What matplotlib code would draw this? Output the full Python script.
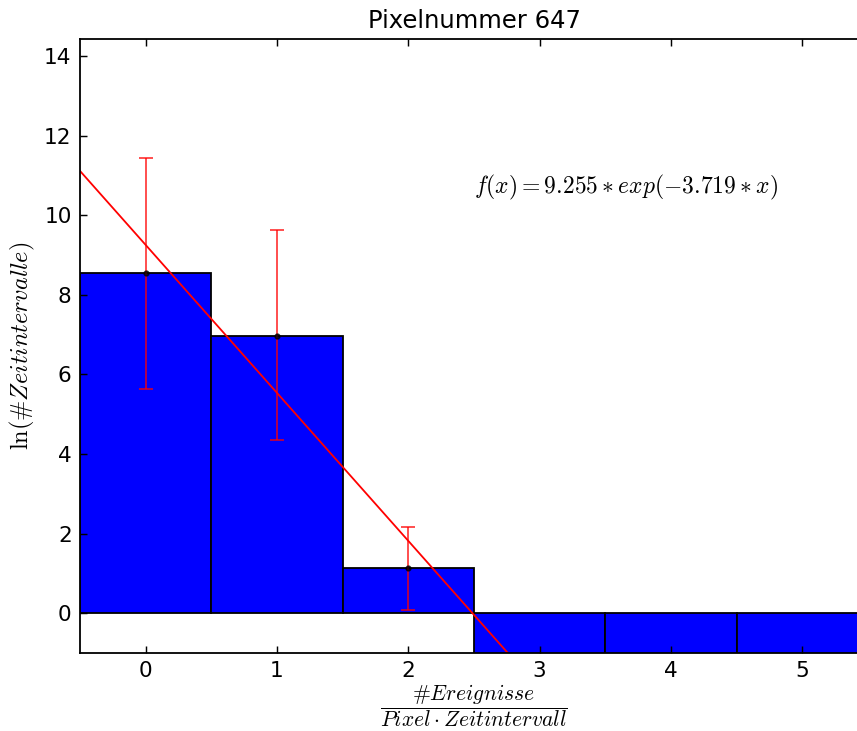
import numpy as np
import matplotlib
matplotlib.use("Agg")
import matplotlib.pyplot as plt
from matplotlib.mathtext import MathTextParser

plt.rcParams['mathtext.fontset'] = 'cm'
plt.rcParams['font.family'] = 'DejaVu Sans'

# data
events = [0, 1, 2, 3, 4, 5]
ln_counts = [8.56, 6.97, 1.13, -10.0, -10.0, -10.0]  # ln(0) -> clipped below axis
err_x = [0, 1, 2]
err_y = [8.56, 6.97, 1.13]
err_lo = [2.92, 2.61, 1.04]
err_hi = [2.89, 2.65, 1.03]
fit_a = 9.255
fit_b = 3.719

_parser = MathTextParser('agg')


def ok(s):
    try:
        _parser.parse(s, 100)
        return True
    except Exception:
        return False


HASHES = [r'\#', r'\mathrm{\#}', r'\text{\#}', r'\text{#}', '\uff03', r'\sharp ']
hs = '#'
for h in HASHES:
    if ok('$' + h + 'E$'):
        hs = h
        break

frac = r'\dfrac' if ok(r'$\dfrac{a}{b}$') else r'\frac'

xlabel = '$' + frac + '{' + hs + 'Ereignisse}{Pixel \\cdot Zeitintervall}$'
ylabel = '$\\ln(' + hs + 'Zeitintervalle)$'
fitlabel = r'$f(x)=9.255*exp(-3.719*x)$'
if not ok(xlabel):
    xlabel = '#Ereignisse / (Pixel·Zeitintervall)'
if not ok(ylabel):
    ylabel = 'ln(#Zeitintervalle)'

S = 1.3
fig = plt.figure(figsize=(8.57, 7.31), dpi=100)
W, H = 857, 731
ax = fig.add_axes([80 / W, (H - 653) / H, 788 / W, (653 - 39) / H])

ax.bar(events, ln_counts, width=1.0, align='center', color='#0000ff',
       edgecolor='black', linewidth=1.0 * S)
ax.errorbar(err_x, err_y, yerr=[err_lo, err_hi], fmt='k.', markersize=7,
            ecolor='red', elinewidth=1.0 * S, capsize=4 * S, capthick=1.0 * S,
            alpha=0.75)
xs = np.linspace(-0.5, 5.5, 200)
ax.plot(xs, fit_a - fit_b * xs, color='red', linewidth=1.0 * S)

ax.set_xlim(-0.5, 5.5)
ax.set_ylim(-1, 14.43)
ax.set_xticks([0, 1, 2, 3, 4, 5])
ax.set_yticks([0, 2, 4, 6, 8, 10, 12, 14])
ax.tick_params(direction='in', top=True, right=True, length=4 * S, width=0.8 * S,
               labelsize=12 * S, pad=6)
for sp in ax.spines.values():
    sp.set_linewidth(1.0 * S)

ax.set_title('Pixelnummer 647', fontsize=17.5, pad=8)
ax.set_xlabel(xlabel, fontsize=15.5, labelpad=1)
ax.set_ylabel(ylabel, fontsize=17.5, labelpad=5)
ax.text(2.5, 10.55, fitlabel, fontsize=17)

fig.savefig('out.png', dpi=100)
